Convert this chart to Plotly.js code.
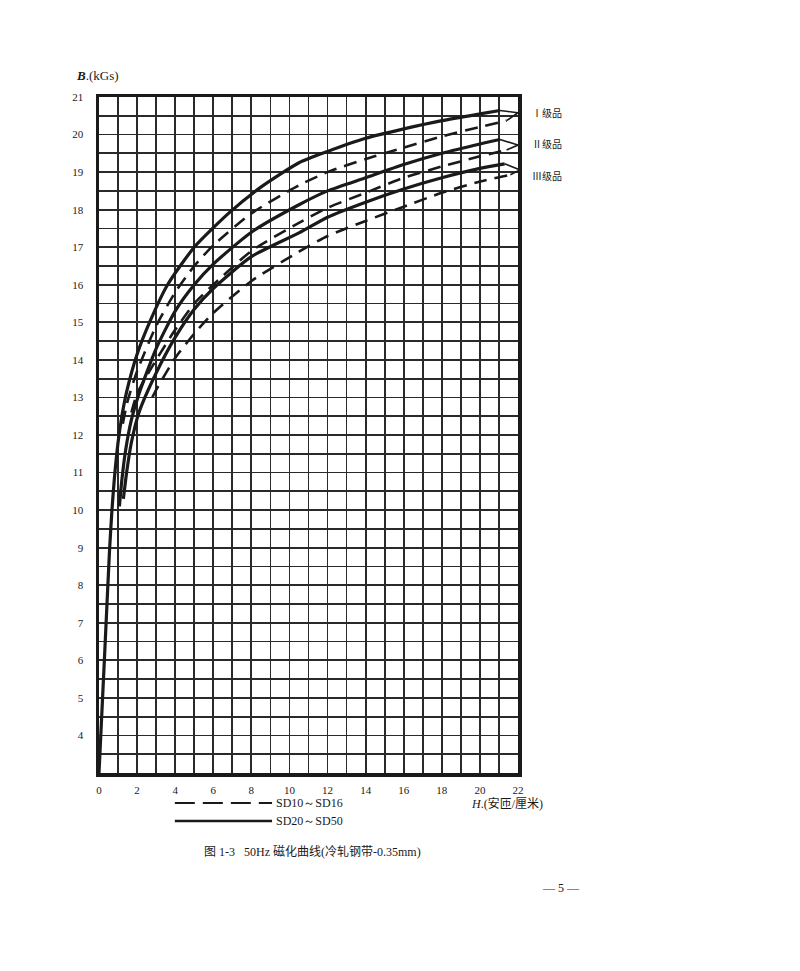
<!DOCTYPE html>
<html>
<head>
<meta charset="utf-8">
<script src="https://cdn.plot.ly/plotly-3.0.1.min.js"></script>
<style>
html,body{margin:0;padding:0;background:#fff;}
#chart{width:800px;height:971px;}
</style>
</head>
<body>
<div id="chart"></div>
<script>
// ---- data (H in A-turns/cm, B in kGs) ----
const gradeLabels = ["Ⅰ级品", "Ⅱ级品", "Ⅲ级品"];
const seriesNames = ["SD10～SD16", "SD20～SD50"];

// Grade I, SD20~SD50 (solid)
const H_I_solid = [0, 0.3, 0.55, 0.68, 0.8, 1.0, 1.2, 1.45, 2.0, 2.7, 3.6, 5.0, 6.8, 8.5, 10.5, 12, 14, 16, 18, 20, 21.05];
const B_I_solid = [3, 6.2, 8.9, 10.0, 10.8, 11.8, 12.5, 13.15, 14.15, 15.05, 16.0, 17.0, 17.9, 18.6, 19.25, 19.55, 19.9, 20.15, 20.37, 20.55, 20.64];
// Grade I, SD10~SD16 (dashed)
const H_I_dash = [1.25, 1.5, 2, 3, 4, 5, 6, 8, 10.5, 12, 14, 16, 18, 20, 21.4];
const B_I_dash = [12.3, 12.9, 13.7, 14.9, 15.8, 16.5, 17.05, 17.9, 18.65, 19.0, 19.35, 19.65, 19.95, 20.2, 20.37];
// Grade II solid
const H_II_solid = [1.07, 1.2, 1.4, 1.7, 2.1, 3, 4, 5, 6, 8, 10.5, 12, 14, 16, 18, 20, 21.05];
const B_II_solid = [10.1, 10.8, 11.6, 12.4, 13.1, 14.3, 15.3, 16.0, 16.55, 17.4, 18.13, 18.5, 18.85, 19.2, 19.5, 19.75, 19.87];
// Grade II dashed
const H_II_dash = [1.7, 2, 3, 4, 5, 6, 8, 10.5, 12, 14, 16, 18, 20, 21.4];
const B_II_dash = [12.6, 13.1, 14.0, 14.8, 15.5, 16.0, 16.9, 17.65, 18.05, 18.45, 18.85, 19.15, 19.42, 19.59];
// Grade III solid
const H_III_solid = [1.28, 1.45, 1.7, 2.1, 3, 4, 5, 6, 8, 10.5, 12, 14, 16, 18, 20, 21.3];
const B_III_solid = [10.3, 11.0, 11.8, 12.6, 13.65, 14.6, 15.35, 15.9, 16.75, 17.38, 17.8, 18.2, 18.55, 18.85, 19.1, 19.22];
// Grade III dashed
const H_III_dash = [2.8, 3, 4, 5, 6, 8, 10.5, 12, 14, 16, 18, 20, 21.6];
const B_III_dash = [13.0, 13.2, 14.05, 14.7, 15.25, 16.1, 16.88, 17.3, 17.7, 18.08, 18.45, 18.75, 18.93];

// bracket tips joining each grade pair (H, B)
const tipH = [22.0, 22.0, 22.1];
const tipB = [20.58, 19.72, 19.06];

const xTickVals = [0, 2, 4, 6, 8, 10, 12, 14, 16, 18, 20, 22];
const yTickVals = [4, 5, 6, 7, 8, 9, 10, 11, 12, 13, 14, 15, 16, 17, 18, 19, 20, 21];

// ---- traces ----
const ink = "#1a1a1a";
const solidLine = {color: ink, width: 3.2, shape: "spline", smoothing: 0.6};
const dashLine = {color: ink, width: 2.6, dash: "13px,8px", shape: "spline", smoothing: 0.6};

const pairs = [
  [H_I_solid, B_I_solid, H_I_dash, B_I_dash],
  [H_II_solid, B_II_solid, H_II_dash, B_II_dash],
  [H_III_solid, B_III_solid, H_III_dash, B_III_dash]
];

const traces = [];
pairs.forEach((p, i) => {
  traces.push({x: p[0], y: p[1], mode: "lines", line: solidLine, hoverinfo: "skip", showlegend: false});
  traces.push({x: p[2], y: p[3], mode: "lines", line: dashLine, hoverinfo: "skip", showlegend: false});
  // bracket: solid end -> tip <- dashed end
  const sx = p[0][p[0].length - 1], sy = p[1][p[1].length - 1];
  const dx = p[2][p[2].length - 1], dy = p[3][p[3].length - 1];
  traces.push({
    x: [sx, tipH[i], dx], y: [sy, tipB[i], dy],
    mode: "lines", line: {color: ink, width: 1.6}, hoverinfo: "skip", showlegend: false, cliponaxis: false
  });
});

// ---- layout ----
const serif = "Liberation Serif, DejaVu Serif, serif";
const cjk = "Liberation Serif, Noto Sans CJK SC, serif";

const annotations = [
  {xref: "paper", yref: "paper", x: -0.06, y: 1.032, xanchor: "left", yanchor: "middle", showarrow: false,
   text: "<b><i>B</i></b>.(kGs)", font: {family: serif, size: 13, color: ink}},
  {xref: "paper", yref: "paper", x: 0.883, y: -0.0444, xanchor: "left", yanchor: "middle", showarrow: false,
   text: "<i>H</i>.(安匝/厘米)", font: {family: cjk, size: 12, color: ink}},
  {xref: "paper", yref: "paper", x: 0.418, y: -0.0444, xanchor: "left", yanchor: "middle", showarrow: false,
   text: seriesNames[0], font: {family: serif, size: 12, color: ink}},
  {xref: "paper", yref: "paper", x: 0.418, y: -0.0710, xanchor: "left", yanchor: "middle", showarrow: false,
   text: seriesNames[1], font: {family: serif, size: 12, color: ink}},
  {xref: "paper", yref: "paper", x: 0.245, y: -0.1165, xanchor: "left", yanchor: "middle", showarrow: false,
   text: "图 1-3   50Hz 磁化曲线(冷轧钢带-0.35mm)", font: {family: cjk, size: 12, color: ink}},
  {xref: "paper", yref: "paper", x: 1.052, y: -0.170, xanchor: "left", yanchor: "middle", showarrow: false,
   text: "— 5 —", font: {family: serif, size: 12, color: ink}}
];
const gradeY = [0.976, 0.929, 0.883];
gradeLabels.forEach((t, i) => annotations.push({
  xref: "paper", yref: "paper", x: 1.028, y: gradeY[i], xanchor: "left", yanchor: "middle", showarrow: false,
  text: t, font: {family: cjk, size: 10, color: ink}
}));

const shapes = [
  {type: "line", xref: "paper", yref: "paper", x0: 0.181, x1: 0.413, y0: -0.0444, y1: -0.0444,
   line: {color: ink, width: 2, dash: "20px,8px"}},
  {type: "line", xref: "paper", yref: "paper", x0: 0.181, x1: 0.413, y0: -0.0710, y1: -0.0710,
   line: {color: ink, width: 2.6}}
];

const layout = {
  width: 800, height: 971,
  margin: {l: 99, r: 282, t: 97, b: 198},
  paper_bgcolor: "#fff", plot_bgcolor: "#fff",
  showlegend: false,
  xaxis: {
    range: [0, 22], tickmode: "array", tickvals: xTickVals, ticktext: xTickVals.map(String),
    showgrid: true, gridcolor: "#2a2a2a", gridwidth: 1.8,
    minor: {tickmode: "linear", tick0: 0, dtick: 1, showgrid: true, gridcolor: "#2a2a2a", gridwidth: 1.8},
    showline: true, linecolor: ink, linewidth: 3.5, mirror: true, zeroline: false,
    ticks: "", ticklabelstandoff: 4,
    tickfont: {family: serif, size: 11, color: ink}, fixedrange: true
  },
  yaxis: {
    range: [3, 21], tickmode: "array", tickvals: yTickVals, ticktext: yTickVals.map(String),
    showgrid: true, gridcolor: "#2a2a2a", gridwidth: 1.8,
    minor: {tickmode: "linear", tick0: 3, dtick: 0.5, showgrid: true, gridcolor: "#2a2a2a", gridwidth: 1.8},
    showline: true, linecolor: ink, linewidth: 3.5, mirror: true, zeroline: false,
    ticks: "", ticklabelstandoff: 10,
    tickfont: {family: serif, size: 11, color: ink}, fixedrange: true
  },
  annotations: annotations,
  shapes: shapes
};

Plotly.newPlot("chart", traces, layout, {displayModeBar: false, staticPlot: true});
</script>
</body>
</html>
